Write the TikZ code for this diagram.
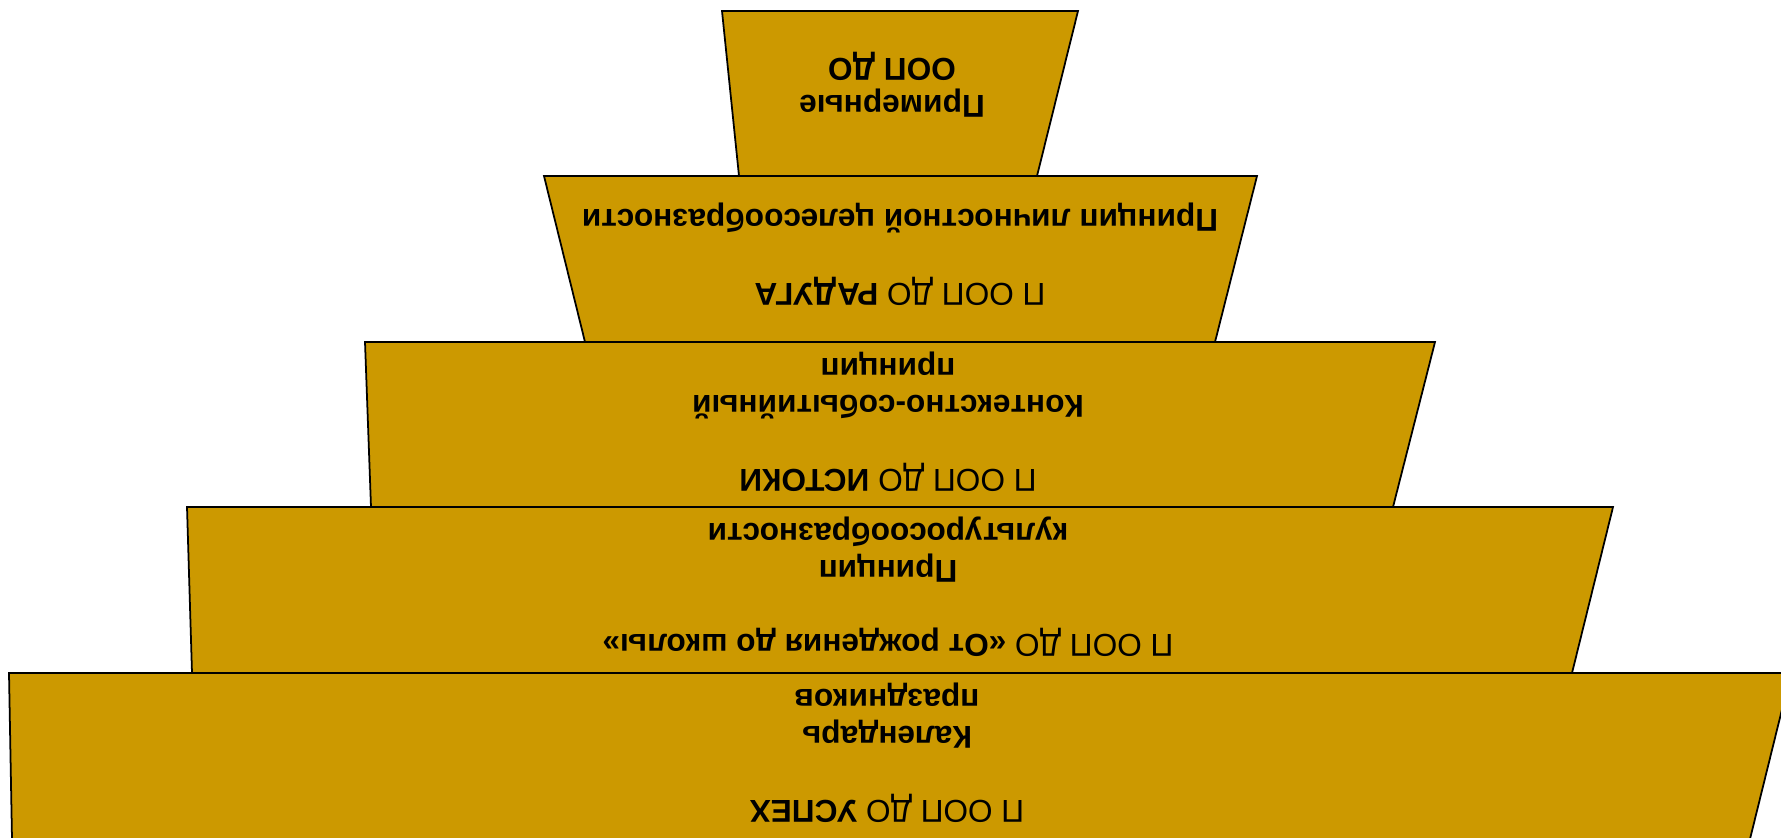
\documentclass[tikz,border=0pt]{standalone}
\usepackage{fontspec}
\setmainfont{Liberation Sans}
\usetikzlibrary{positioning}
\definecolor{ochre}{HTML}{CC9900}
\tikzstyle{layer}=[draw=black, fill=ochre, line width=1pt, line join=miter]
\tikzstyle{caption}=[rotate=180, align=center, inner sep=0pt, font=\fontsize{18}{21}\selectfont]

\begin{document}
\begin{tikzpicture}[x=0.02cm, y=-0.02cm]
  \useasboundingbox (0,0) rectangle (1781,838);
  \clip (0,0) rectangle (1781,838);
  % Top: Примерные
  \draw[layer] (722,11) -- (1078,11) -- (1037,176) -- (739,176) -- cycle;
  \node[caption] (primer) at (892,85) {\textbf{Примерные}\\\textbf{ООП ДО}};
  % Радуга
  \draw[layer] (544,176) -- (1257,176) -- (1215,342) -- (585,342) -- cycle;
  \node[caption] (raduga) at (900,254)
    {П ООП ДО \textbf{РАДУГА}\\[21pt]\textbf{Принцип личностной целесообразности}};
  % Истоки
  \draw[layer] (365,342) -- (1435,342) -- (1393,507) -- (371,507) -- cycle;
  \node[caption] (istoki) at (888,422)
    {П ООП ДО \textbf{ИСТОКИ}\\[21pt]\textbf{Контекстно-событийный}\\\textbf{принцип}};
  % От рождения до школы
  \draw[layer] (187,507) -- (1613,507) -- (1572,673) -- (192,673) -- cycle;
  \node[caption] (otrozhd) at (888,587)
    {П ООП ДО \textbf{«От рождения до школы»}\\[21pt]\textbf{Принцип}\\\textbf{культуросообразности}};
  % Успех
  \draw[layer] (9,673) -- (1791,673) -- (1750,839) -- (12,839) -- cycle;
  \node[caption] (uspeh) at (887,753)
    {П ООП ДО \textbf{УСПЕХ}\\[21pt]\textbf{Календарь}\\\textbf{праздников}};
\end{tikzpicture}
\end{document}
